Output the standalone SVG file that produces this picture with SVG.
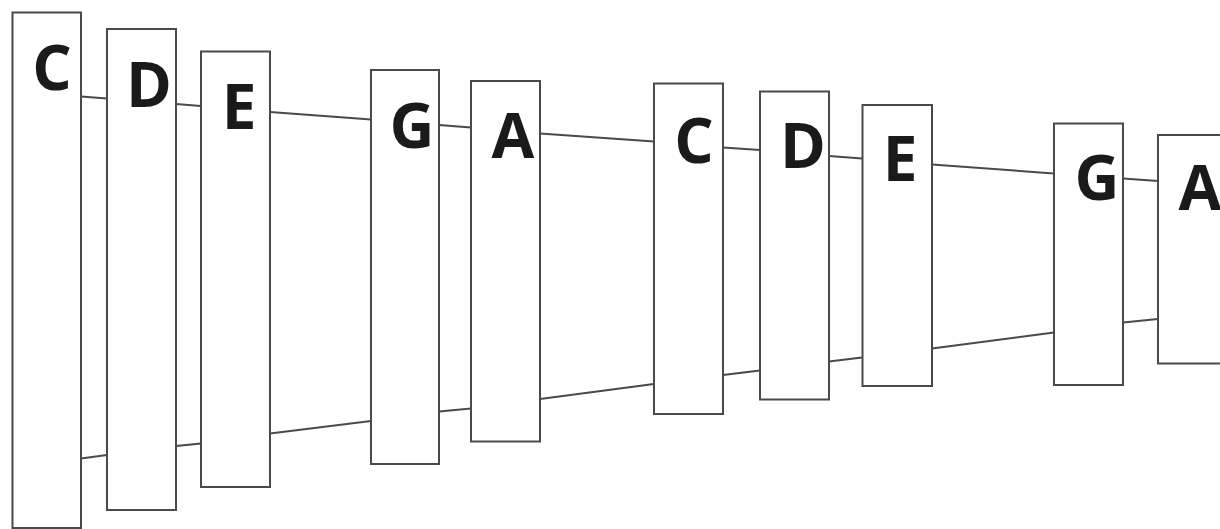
<svg xmlns="http://www.w3.org/2000/svg" width="1220" height="529" viewBox="0 0 1220 529">
  <style>
    .bar { fill: #ffffff; stroke: #4a4a4a; stroke-width: 2; }
    .link { fill: none; stroke: #4a4a4a; stroke-width: 2; }
    .note { font-family: "Open Sans", "Liberation Sans", sans-serif; font-weight: 700; font-size: 62px; fill: #1a1a1a; text-anchor: middle; }
  </style>
  <rect width="1220" height="529" fill="#ffffff"/>

  <!-- connectors: upper and lower rails between neighbouring bars -->
  <g id="connectors">
    <line class="link" x1="81" y1="96.5" x2="107" y2="98.5"/>
    <line class="link" x1="176" y1="104" x2="201" y2="106"/>
    <line class="link" x1="270" y1="112" x2="371" y2="119.5"/>
    <line class="link" x1="439" y1="125" x2="471" y2="127.5"/>
    <line class="link" x1="540" y1="133.5" x2="654" y2="141.5"/>
    <line class="link" x1="723" y1="147.5" x2="760" y2="150"/>
    <line class="link" x1="829" y1="156" x2="862" y2="158.5"/>
    <line class="link" x1="932" y1="164.5" x2="1054" y2="173.5"/>
    <line class="link" x1="1123" y1="178.5" x2="1158" y2="181"/>

    <line class="link" x1="81" y1="458.5" x2="107" y2="455"/>
    <line class="link" x1="176" y1="446" x2="201" y2="443.5"/>
    <line class="link" x1="270" y1="433.5" x2="371" y2="421"/>
    <line class="link" x1="439" y1="411.5" x2="471" y2="408.5"/>
    <line class="link" x1="540" y1="399" x2="654" y2="384"/>
    <line class="link" x1="723" y1="375" x2="760" y2="370.5"/>
    <line class="link" x1="829" y1="361.5" x2="862" y2="357.5"/>
    <line class="link" x1="932" y1="348.5" x2="1054" y2="332.5"/>
    <line class="link" x1="1123" y1="322.5" x2="1158" y2="319"/>
  </g>

  <g id="bar-c1">
    <rect class="bar" x="12.5" y="12.5" width="68.5" height="515.5"/>
    <text class="note" x="52" y="90">C</text>
  </g>
  <g id="bar-d1">
    <rect class="bar" x="107" y="29" width="69" height="481"/>
    <text class="note" x="149" y="107">D</text>
  </g>
  <g id="bar-e1">
    <rect class="bar" x="201" y="51.5" width="69" height="435.5"/>
    <text class="note" x="239" y="129">E</text>
  </g>
  <g id="bar-g1">
    <rect class="bar" x="371" y="70" width="68" height="394"/>
    <text class="note" x="412" y="148">G</text>
  </g>
  <g id="bar-a1">
    <rect class="bar" x="471" y="81" width="69" height="360.5"/>
    <text class="note" x="513" y="158">A</text>
  </g>
  <g id="bar-c2">
    <rect class="bar" x="654" y="83.5" width="69" height="330.5"/>
    <text class="note" x="694" y="163">C</text>
  </g>
  <g id="bar-d2">
    <rect class="bar" x="760" y="91.5" width="69" height="308"/>
    <text class="note" x="803" y="168">D</text>
  </g>
  <g id="bar-e2">
    <rect class="bar" x="862.5" y="105" width="69.5" height="281"/>
    <text class="note" x="900" y="181">E</text>
  </g>
  <g id="bar-g2">
    <rect class="bar" x="1054" y="123.5" width="69" height="261.5"/>
    <text class="note" x="1097" y="200">G</text>
  </g>
  <g id="bar-a2">
    <rect class="bar" x="1158" y="135" width="80" height="228.5"/>
    <text class="note" x="1200" y="210">A</text>
  </g>
</svg>
